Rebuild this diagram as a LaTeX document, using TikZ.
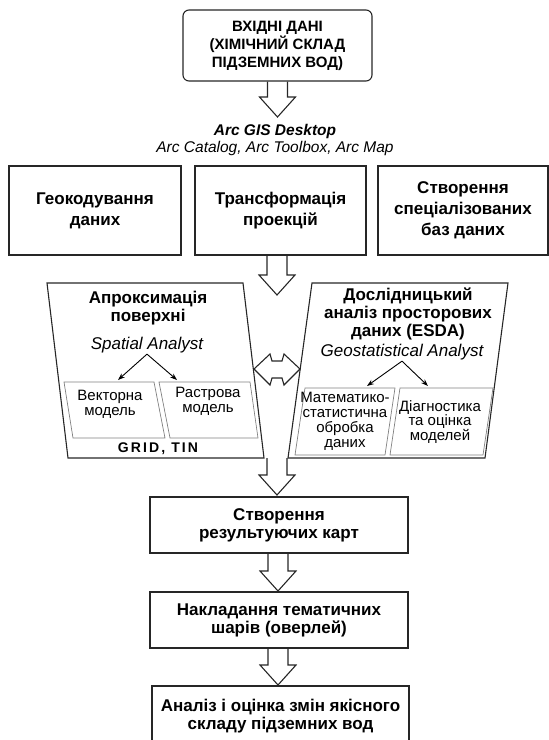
\documentclass[tikz,border=0pt]{standalone}
\usepackage{fontspec}
\setmainfont{Liberation Sans}
\usetikzlibrary{calc,arrows.meta}

\newcommand{\topsz}{\fontsize{15}{18}\selectfont}
\newcommand{\titlesz}{\fontsize{17}{18}\selectfont}
\newcommand{\boxsz}{\fontsize{17}{21}\selectfont}
\newcommand{\toolsz}{\fontsize{15.5}{17}\selectfont}
\newcommand{\analystsz}{\fontsize{17}{17}\selectfont}
\newcommand{\innersz}{\fontsize{15}{14.8}\selectfont}
\newcommand{\gridsz}{\fontsize{14}{14}\selectfont}

% hollow block arrow pointing down, from #1 to the tip #2
\newcommand{\hollowdown}[2]{%
  \draw[frame] let \p1=(#1), \p2=(#2) in
    (\x1-10pt,\y1) -- (\x1-10pt,\y2+20pt) -- (\x1-18pt,\y2+20pt) -- (\x1,\y2)
    -- (\x1+18pt,\y2+20pt) -- (\x1+10pt,\y2+20pt) -- (\x1+10pt,\y1);}

\begin{document}
\begin{tikzpicture}[x=1pt,y=-1pt,
  frame/.style={draw=black!85, line width=1.1pt},
  flowbox/.style={frame, align=center, font=\bfseries\titlesz, inner sep=0pt},
  inbox/.style={draw=black!50, line width=0.7pt},
  splitarr/.style={-{Stealth[length=7pt,width=5pt]}, line width=0.9pt}]
\useasboundingbox (0,0) rectangle (549,740);

% input data
\node[flowbox, font=\bfseries\topsz, rounded corners=6pt, minimum width=189pt, minimum height=71pt] (in) at (277.5,45.5)
  {ВХІДНІ ДАНІ\\(ХІМІЧНИЙ СКЛАД\\ПІДЗЕМНИХ ВОД)};
\coordinate (tip1) at (277,117);
\hollowdown{in.south}{tip1}

\node[font=\bfseries\itshape\toolsz] (desk) at (275,131) {Arc GIS Desktop};
\node[font=\itshape\toolsz] (tools) at (275,148) {Arc Catalog, Arc Toolbox, Arc Map};

% preparation
\node[flowbox, font=\bfseries\boxsz, minimum width=172pt, minimum height=89pt] (geo) at (95,210.5) {Геокодування\\даних};
\node[flowbox, font=\bfseries\boxsz, minimum width=171pt, minimum height=89pt] (tr) at (280.5,210.5) {Трансформація\\проекцій};
\node[flowbox, font=\bfseries\boxsz, minimum width=170pt, minimum height=89pt] (db) at (463,210.5) {Створення\\спеціалізованих\\баз даних};
\coordinate (tip2) at (277,295);
\hollowdown{tip2 |- tr.south}{tip2}

% surface approximation
\coordinate (a1) at (47,283);
\coordinate (a2) at (243,283);
\coordinate (a3) at (264,458);
\coordinate (a4) at (68,458);
\draw[frame] (a1) -- (a2) -- (a3) -- (a4) -- cycle;
\draw[inbox] (64,382) -- (154,382) -- (165,438) -- (73,438) -- cycle;
\draw[inbox] (159,382) -- (250,382) -- (258,438) -- (170,438) -- cycle;
\node[font=\bfseries\titlesz, align=center] (apx) at (148,308.5) {Апроксимація\\поверхні};
\node[font=\itshape\analystsz, inner sep=1pt] (sa) at (147,345) {Spatial Analyst};
\coordinate (vectop) at (118,380);
\coordinate (rastop) at (177,380);
\draw[splitarr] (sa.south) -- (vectop);
\draw[splitarr] (sa.south) -- (rastop);
\node[font=\innersz, align=center] (vec) at (110,404.5) {Векторна\\модель};
\node[font=\innersz, align=center] (ras) at (208,401.5) {Растрова\\модель};
\node[font=\bfseries\gridsz\addfontfeature{LetterSpace=15}] (grid) at (158,449) {GRID, TIN};

% exploratory spatial data analysis
\coordinate (b1) at (312,283);
\coordinate (b2) at (508,283);
\coordinate (b3) at (485,458);
\coordinate (b4) at (288,458);
\draw[frame] (b1) -- (b2) -- (b3) -- (b4) -- cycle;
\draw[inbox] (305,388) -- (395,388) -- (385,455) -- (295,455) -- cycle;
\draw[inbox] (400,388) -- (493,388) -- (483,455) -- (390,455) -- cycle;
\node[font=\bfseries\titlesz, align=center] (esda) at (408,314) {Дослідницький\\аналіз просторових\\даних (ESDA)};
\node[font=\itshape\analystsz, inner sep=1pt] (gsa) at (402,352) {Geostatistical Analyst};
\coordinate (mattop) at (367,386);
\coordinate (diagtop) at (428,386);
\draw[splitarr] (gsa.south) -- (mattop);
\draw[splitarr] (gsa.south) -- (diagtop);
\node[font=\innersz, align=center] (mat) at (345,421.5) {Математико-\\статистична\\обробка\\даних};
\node[font=\innersz, align=center] (diag) at (440,422) {Діагностика\\та оцінка\\моделей};

% two-way link
\coordinate (dl) at (254,369);
\coordinate (dr) at (300,369);
\draw[frame] let \p1=(dl), \p2=(dr) in (\p1) -- (\x1+16pt,\y1+15pt) -- (\x1+18pt,\y1+8pt)
  -- (\x2-18pt,\y1+8pt) -- (\x2-16pt,\y1+15pt) -- (\p2) -- (\x2-16pt,\y1-16pt)
  -- (\x2-18pt,\y1-9pt) -- (\x1+18pt,\y1-9pt) -- (\x1+16pt,\y1-16pt) -- cycle;

\coordinate (tip3) at (277,495);
\hollowdown{tip3 |- a3}{tip3}

% results
\node[flowbox, minimum width=258pt, minimum height=56pt] (res) at (279,525) {Створення\\результуючих карт};
\coordinate (tip4) at (278,591);
\hollowdown{tip4 |- res.south}{tip4}
\node[flowbox, minimum width=258pt, minimum height=56pt] (ovl) at (279,620) {Накладання тематичних\\шарів (оверлей)};
\coordinate (tip5) at (278,685);
\hollowdown{tip5 |- ovl.south}{tip5}
\node[flowbox, minimum width=257pt, minimum height=60pt] (an) at (280.5,716) {Аналіз і оцінка змін якісного\\складу підземних вод};
\end{tikzpicture}
\end{document}
